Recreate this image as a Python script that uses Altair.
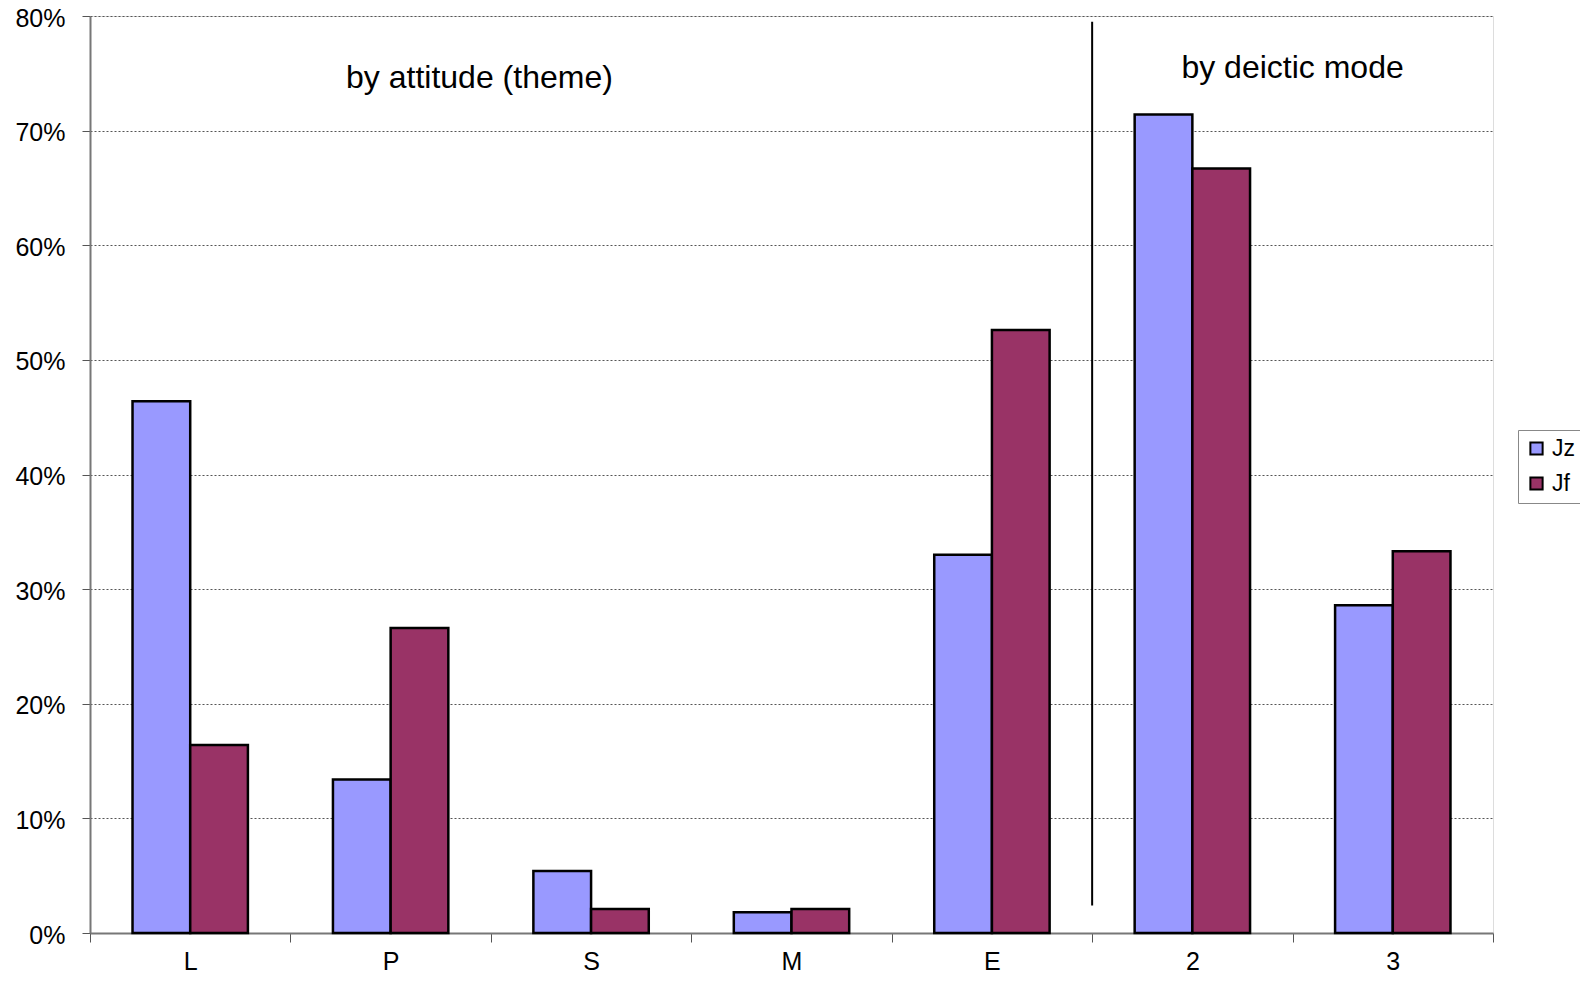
import altair as alt
import pandas as pd

categories = ["L", "P", "S", "M", "E", "2", "3"]
series = ["Jz", "Jf"]
jz_values = [0.464, 0.134, 0.054, 0.018, 0.330, 0.714, 0.286]
jf_values = [0.164, 0.266, 0.021, 0.021, 0.526, 0.667, 0.333]
colors = ["#9999FF", "#993366"]
y_ticks = [0, 0.1, 0.2, 0.3, 0.4, 0.5, 0.6, 0.7, 0.8]

ann_text = ["by attitude (theme)", "by deictic mode"]
ann_x = [1.943, 6.0]          # in category-band units
ann_y = [0.746, 0.755]
divider_x = [5.0]
divider_y = [0.795]
divider_y2 = [0.024]

FONT = "Liberation Sans"

rows = []
for c, a, b in zip(categories, jz_values, jf_values):
    rows.append({"cat": c, "series": "Jz", "value": a})
    rows.append({"cat": c, "series": "Jf", "value": b})
df = pd.DataFrame(rows)
ann_df = pd.DataFrame({"t": ann_text, "x": ann_x, "y": ann_y})
div_df = pd.DataFrame({"x": divider_x, "y": divider_y, "y2": divider_y2})

yscale = alt.Scale(domain=[0, 0.8], nice=False, zero=True)
qx = alt.Scale(domain=[0, 7], nice=False, zero=False)
y_axis = alt.Axis(title=None, format=".0%", values=y_ticks,
                  labelFontSize=25, labelFont=FONT, labelColor="black",
                  labelPadding=17, labelOffset=2, tickSize=8, tickColor="#555",
                  domainColor="#777", domainWidth=2,
                  grid=True, gridColor="#555", gridDash=[2, 2], gridWidth=1)

bars = alt.Chart(df).mark_bar(stroke="black", strokeWidth=2.5).encode(
    x=alt.X("cat:N", sort=categories,
            scale=alt.Scale(paddingInner=0, paddingOuter=0),
            axis=alt.Axis(title=None, labelAngle=0, tickBand="extent",
                          labelFontSize=25, labelFont=FONT, labelColor="black",
                          labelBaseline="alphabetic",
                          labelPadding=27, tickSize=9, tickColor="#555",
                          domainColor="#777", domainWidth=2)),
    xOffset=alt.XOffset("series:N", sort=series,
                        scale=alt.Scale(paddingInner=0, paddingOuter=0.737)),
    y=alt.Y("value:Q", scale=yscale, axis=y_axis),
    color=alt.Color("series:N", sort=series,
                    scale=alt.Scale(domain=series, range=colors),
                    legend=alt.Legend(title=None, orient="none",
                                      legendX=1428, legendY=414,
                                      symbolType="square", symbolSize=150,
                                      symbolStrokeColor="black",
                                      symbolStrokeWidth=2,
                                      labelFontSize=23, labelFont=FONT,
                                      labelColor="black", rowPadding=11,
                                      padding=7, strokeColor="#888",
                                      fillColor="white")),
)

divider = alt.Chart(div_df).mark_rule(color="black", strokeWidth=2).encode(
    x=alt.X("x:Q", scale=qx, axis=None),
    y=alt.Y("y:Q", scale=yscale, axis=y_axis),
    y2="y2:Q",
)

texts = alt.Chart(ann_df).mark_text(
    fontSize=32, font=FONT, color="black", align="center", baseline="middle"
).encode(
    x=alt.X("x:Q", scale=qx, axis=None),
    y=alt.Y("y:Q", scale=yscale, axis=y_axis),
    text="t:N",
)

chart = alt.layer(bars, divider, texts).resolve_scale(x="independent").properties(
    width=1403, height=917,
    autosize=alt.AutoSizeParams(type="none"),
    padding={"left": 82, "top": 8, "right": 87, "bottom": 42},
).configure_view(stroke="#888", strokeWidth=2.5).configure(background="white")

chart.save("out.html", embed_options={"renderer": "svg", "actions": False})
